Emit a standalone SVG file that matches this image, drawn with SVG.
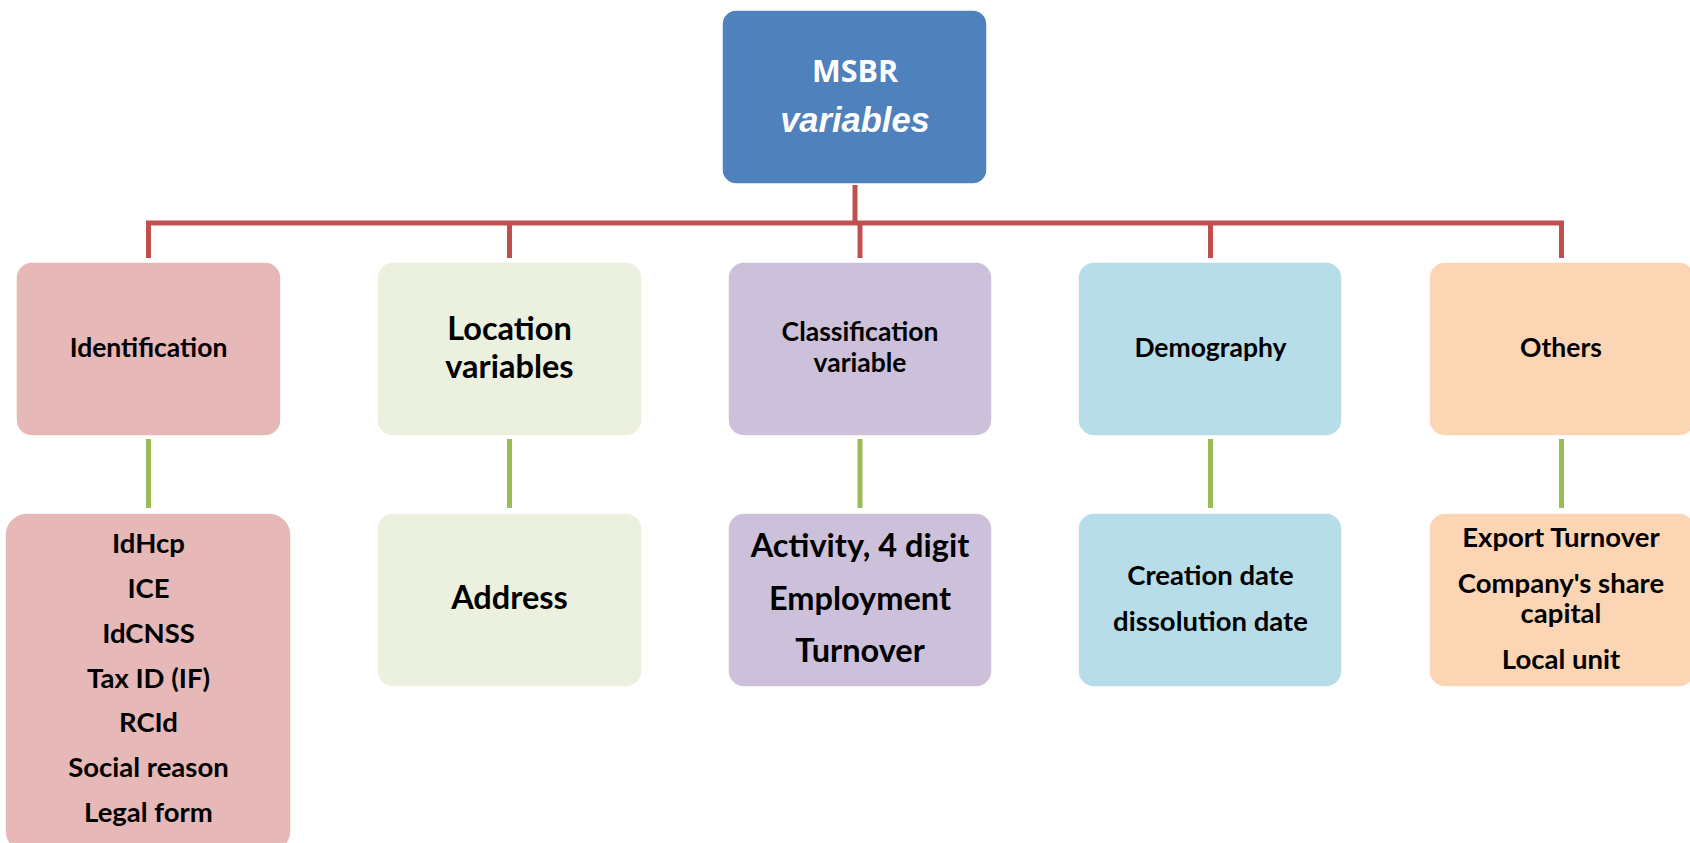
<svg xmlns="http://www.w3.org/2000/svg" width="1690" height="843" viewBox="0 0 1690 843">
<defs>
<style>
.t{font-family:Lato,"Open Sans",sans-serif;font-weight:700;fill:#000;text-anchor:middle}
.s{font-size:26.5px}
.m{font-size:27.5px}
.l{font-size:32.5px}
.box{stroke:#ffffff;stroke-width:1.5}
.red{stroke:#C0504D;stroke-width:5;fill:none}
.grn{stroke:#9BBB59;stroke-width:5;fill:none}
</style>
</defs>
<rect width="1690" height="843" fill="#ffffff"/>
<g id="connectors">
<line class="red" x1="855" y1="185" x2="855" y2="223"/>
<polyline class="red" points="148.5,258 148.5,223 1561.5,223 1561.5,258" stroke-linejoin="miter"/>
<line class="red" x1="509.5" y1="223" x2="509.5" y2="258"/>
<line class="red" x1="860" y1="223" x2="860" y2="258"/>
<line class="red" x1="1210.5" y1="223" x2="1210.5" y2="258"/>
<line class="grn" x1="148.5" y1="439" x2="148.5" y2="508"/>
<line class="grn" x1="509.5" y1="439" x2="509.5" y2="508"/>
<line class="grn" x1="860" y1="439" x2="860" y2="508"/>
<line class="grn" x1="1210.5" y1="439" x2="1210.5" y2="508"/>
<line class="grn" x1="1561.5" y1="439" x2="1561.5" y2="508"/>
</g>
<g id="root">
<rect class="box" x="722" y="10" width="265" height="174" rx="14" fill="#4F81BD"/>
<text x="855" y="82" font-family="'Open Sans',Lato,sans-serif" font-weight="700" font-size="30.5" fill="#ffffff" text-anchor="middle">MSBR</text>
<text x="855" y="132" font-family="'Liberation Sans',Arial,sans-serif" font-weight="700" font-style="italic" font-size="34.5" fill="#ffffff" text-anchor="middle">variables</text>
</g>
<g id="identification">
<rect class="box" x="16" y="262" width="265" height="174" rx="16" fill="#E6B8B7"/>
<text class="t s" x="148.5" y="357">Identification</text>
</g>
<g id="location">
<rect class="box" x="377" y="262" width="265" height="174" rx="16" fill="#EBF1DE"/>
<text class="t l" x="509.5" y="340">Location</text>
<text class="t l" x="509.5" y="378">variables</text>
</g>
<g id="classification">
<rect class="box" x="728" y="262" width="264" height="174" rx="16" fill="#CCC0DA"/>
<text class="t s" x="860" y="341">Classification</text>
<text class="t s" x="860" y="372">variable</text>
</g>
<g id="demography">
<rect class="box" x="1078" y="262" width="264" height="174" rx="16" fill="#B7DEE8"/>
<text class="t s" x="1210.5" y="357">Demography</text>
</g>
<g id="others">
<rect class="box" x="1429" y="262" width="266" height="174" rx="16" fill="#FCD5B4"/>
<text class="t s" x="1561" y="357">Others</text>
</g>
<g id="identification-items">
<rect class="box" x="5" y="513" width="286" height="340" rx="22" fill="#E6B8B7"/>
<text class="t m" x="148.5" y="553">IdHcp</text>
<text class="t m" x="148.5" y="598">ICE</text>
<text class="t m" x="148.5" y="643">IdCNSS</text>
<text class="t m" x="148.5" y="688">Tax ID (IF)</text>
<text class="t m" x="148.5" y="732">RCId</text>
<text class="t m" x="148.5" y="777">Social reason</text>
<text class="t m" x="148.5" y="822">Legal form</text>
</g>
<g id="location-items">
<rect class="box" x="377" y="513" width="265" height="174" rx="16" fill="#EBF1DE"/>
<text class="t l" x="509.5" y="609">Address</text>
</g>
<g id="classification-items">
<rect class="box" x="728" y="513" width="264" height="174" rx="16" fill="#CCC0DA"/>
<text class="t l" x="860" y="557">Activity, 4 digit</text>
<text class="t l" x="860" y="610">Employment</text>
<text class="t l" x="860" y="662">Turnover</text>
</g>
<g id="demography-items">
<rect class="box" x="1078" y="513" width="264" height="174" rx="16" fill="#B7DEE8"/>
<text class="t m" x="1210.5" y="585">Creation date</text>
<text class="t m" x="1210.5" y="631">dissolution date</text>
</g>
<g id="others-items">
<rect class="box" x="1429" y="513" width="266" height="174" rx="16" fill="#FCD5B4"/>
<text class="t m" x="1561" y="547">Export Turnover</text>
<text class="t m" x="1561" y="593">Company's share</text>
<text class="t m" x="1561" y="623">capital</text>
<text class="t m" x="1561" y="669">Local unit</text>
</g>
</svg>
